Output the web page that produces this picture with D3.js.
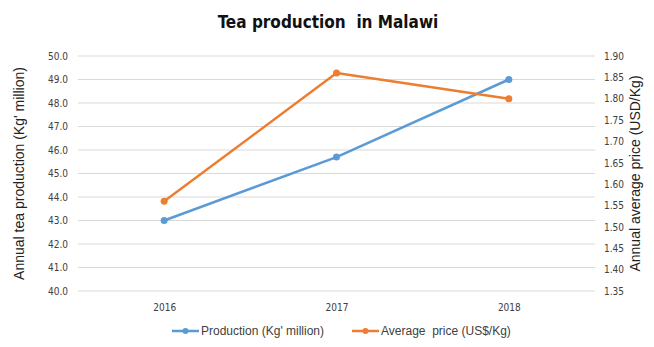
<!DOCTYPE html>
<html>
<head>
<meta charset="utf-8">
<script src="https://cdn.jsdelivr.net/npm/d3@7"></script>
<style>
  body { margin: 0; background: #fff; }
  svg { display: block; }
</style>
</head>
<body>
<svg id="chart" width="654" height="347"></svg>
<script>
// Tea production in Malawi, 2016-2018
const years = ["2016", "2017", "2018"];
const production = [43.0, 45.7, 49.0];   // Kg' million
const price = [1.56, 1.86, 1.80];         // US$/Kg
const leftTicks = [40, 41, 42, 43, 44, 45, 46, 47, 48, 49, 50];
const rightTicks = [1.35, 1.40, 1.45, 1.50, 1.55, 1.60, 1.65, 1.70, 1.75, 1.80, 1.85, 1.90];

const blue = "#5B9BD5", orange = "#ED7D31";
const narrow = "'DejaVu Sans Condensed', 'DejaVu Sans', sans-serif";

const svg = d3.select("#chart");
const plot = { left: 78, right: 595, top: 56, bottom: 291 };

const x = d3.scalePoint().domain(years).range([plot.left, plot.right]).padding(0.5);
const yL = d3.scaleLinear().domain([40, 50]).range([plot.bottom, plot.top]);
const yR = d3.scaleLinear().domain([1.35, 1.90]).range([plot.bottom, plot.top]);

// Title
svg.append("text")
  .attr("x", 328).attr("y", 28)
  .attr("text-anchor", "middle")
  .attr("font-family", narrow)
  .attr("font-weight", "bold")
  .attr("font-size", 17)
  .attr("fill", "#111")
  .style("white-space", "pre")
  .text("Tea production  in Malawi");

// Horizontal gridlines
svg.append("g").selectAll("line").data(leftTicks).join("line")
  .attr("x1", plot.left).attr("x2", plot.right)
  .attr("y1", d => yL(d)).attr("y2", d => yL(d))
  .attr("stroke", "#d9d9d9").attr("stroke-width", 1);

// Left axis labels
const gL = svg.append("g").attr("transform", `translate(${plot.left - 10},0)`)
  .call(d3.axisLeft(yL).tickValues(leftTicks).tickFormat(d3.format(".1f")).tickSize(0).tickPadding(0));
gL.select(".domain").remove();
gL.selectAll("text").attr("font-family", narrow).attr("font-size", 10).attr("fill", "#404040");

// Right axis labels
const gR = svg.append("g").attr("transform", `translate(${plot.right + 9},0)`)
  .call(d3.axisRight(yR).tickValues(rightTicks).tickFormat(d3.format(".2f")).tickSize(0).tickPadding(0));
gR.select(".domain").remove();
gR.selectAll("text").attr("font-family", narrow).attr("font-size", 10).attr("fill", "#404040");

// Category labels
const gX = svg.append("g").attr("transform", `translate(0,${plot.bottom + 8})`)
  .call(d3.axisBottom(x).tickSize(0).tickPadding(5));
gX.select(".domain").remove();
gX.selectAll("text").attr("font-family", narrow).attr("font-size", 10).attr("fill", "#404040");

// Axis titles
svg.append("text")
  .attr("transform", `translate(24,${(plot.top + plot.bottom) / 2}) rotate(-90)`)
  .attr("text-anchor", "middle")
  .attr("font-family", "'Liberation Sans', Arial, sans-serif")
  .attr("font-size", 14).attr("fill", "#222")
  .text("Annual tea production (Kg' million)");

svg.append("text")
  .attr("transform", `translate(640,${(plot.top + plot.bottom) / 2}) rotate(-90)`)
  .attr("text-anchor", "middle")
  .attr("font-family", "'Liberation Sans', Arial, sans-serif")
  .attr("font-size", 14).attr("fill", "#222")
  .text("Annual average price (USD/Kg)");

// Series
function drawSeries(values, y, color) {
  const pts = years.map((yr, i) => [x(yr), y(values[i])]);
  svg.append("path")
    .attr("d", d3.line()(pts))
    .attr("fill", "none").attr("stroke", color).attr("stroke-width", 2.5)
    .attr("stroke-linejoin", "round");
  svg.append("g").selectAll("circle").data(pts).join("circle")
    .attr("cx", d => d[0]).attr("cy", d => d[1]).attr("r", 3.5)
    .attr("fill", color);
}
drawSeries(production, yL, blue);
drawSeries(price, yR, orange);

// Legend
const legend = [
  { label: "Production (Kg' million)", color: blue, x: 172 },
  { label: "Average  price (US$/Kg)", color: orange, x: 352 }
];
const lg = svg.append("g").selectAll("g").data(legend).join("g")
  .attr("transform", d => `translate(${d.x},331)`);
lg.append("line").attr("x1", 0).attr("x2", 27).attr("y1", 0).attr("y2", 0)
  .attr("stroke", d => d.color).attr("stroke-width", 2.5);
lg.append("circle").attr("cx", 13.5).attr("cy", 0).attr("r", 3).attr("fill", d => d.color);
lg.append("text").attr("x", 29).attr("y", 4)
  .attr("font-family", "'Liberation Sans', Arial, sans-serif")
  .attr("font-size", 12).attr("fill", "#404040")
  .style("white-space", "pre")
  .text(d => d.label);
</script>
</body>
</html>
